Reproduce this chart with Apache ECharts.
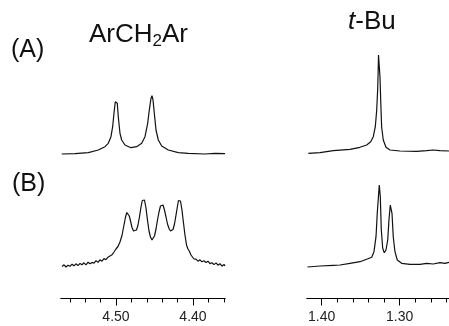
<!DOCTYPE html>
<html>
<head>
<meta charset="utf-8">
<script src="https://cdn.jsdelivr.net/npm/echarts@6/dist/echarts.min.js"></script>
<style>
  html, body { margin: 0; padding: 0; background: #fff; }
  #chart { width: 449px; height: 326px; }
</style>
</head>
<body>
<div id="chart"></div>
<script>
// chemical shift windows (ppm)
const leftRange = [4.3584, 4.5714];
const rightRange = [1.2367, 1.4188];
const leftMajor = [4.50, 4.40];
const leftMinor = [4.56, 4.54, 4.52, 4.48, 4.46, 4.44, 4.42, 4.38, 4.36];
const rightMajor = [1.40, 1.30];
const rightMinor = [1.38, 1.36, 1.34, 1.32, 1.28, 1.26, 1.24];

// traces: [ppm, intensity above baseline]
const aLeft = [
  [4.5705, -0.5], [4.5532, -0.2], [4.5359, 0.8], [4.5230, 3.5], [4.5143, 6.8],
  [4.5100, 10.2], [4.5065, 16.8], [4.5043, 26.8], [4.5026, 40.2], [4.5009, 51.8],
  [4.4996, 53.5], [4.4983, 50.2], [4.4970, 36.8], [4.4948, 20.2], [4.4926, 13.5],
  [4.4883, 8.5], [4.4805, 5.8], [4.4731, 6.8], [4.4666, 10.2], [4.4623, 16.8],
  [4.4588, 30.2], [4.4567, 43.5], [4.4545, 55.2], [4.4532, 57.8], [4.4519, 53.5],
  [4.4502, 40.2], [4.4480, 23.5], [4.4450, 13.5], [4.4406, 7.5], [4.4320, 3.5],
  [4.4191, 0.8], [4.4061, 0.2], [4.3844, -0.5], [4.3714, 0.2], [4.3584, -0.2]
];

const bLeft = [
  [4.5701, -0.5], [4.5675, 1.2], [4.5662, 0.2], [4.5649, -1], [4.5623, 0.8], [4.5597, -0.3],
  [4.5571, 1.8], [4.5558, 0.6], [4.5545, 0.2], [4.5519, 2.2], [4.5493, 0.4], [4.5467, 2.6],
  [4.5441, 1.3], [4.5428, 2.1], [4.5415, 3.2], [4.5389, 1.2], [4.5363, 3.8], [4.5337, 2.2],
  [4.5311, 3.6], [4.5298, 4.6], [4.5285, 2.8], [4.5259, 5.4], [4.5233, 3.6], [4.5208, 6.2],
  [4.5182, 4.8], [4.5156, 7.4], [4.5130, 6.3], [4.5104, 8.8], [4.5078, 10],
  [4.5052, 11.2], [4.5026, 14], [4.5000, 17], [4.4974, 19.5], [4.4948, 24],
  [4.4922, 30.5], [4.4896, 41], [4.4876, 49], [4.4859, 53.5], [4.4844, 53],
  [4.4827, 50], [4.4811, 45], [4.4792, 38.5], [4.4772, 35], [4.4753, 34.3],
  [4.4733, 36], [4.4714, 41], [4.4695, 49], [4.4675, 59], [4.4658, 65.5],
  [4.4645, 67.5], [4.4630, 66], [4.4610, 58], [4.4591, 46], [4.4571, 35],
  [4.4552, 29], [4.4532, 26], [4.4515, 26.5], [4.4500, 30], [4.4480, 37],
  [4.4461, 46], [4.4441, 54], [4.4422, 60], [4.4405, 62], [4.4389, 61],
  [4.4370, 56], [4.4350, 49], [4.4331, 42], [4.4311, 37.5], [4.4292, 35],
  [4.4275, 34.5], [4.4259, 36.5], [4.4240, 42], [4.4220, 51], [4.4201, 60],
  [4.4188, 65.5], [4.4178, 67.5], [4.4162, 65], [4.4143, 56], [4.4123, 43],
  [4.4104, 31], [4.4084, 21], [4.4065, 17], [4.4045, 14.5], [4.4026, 11],
  [4.4006, 9.5], [4.3987, 7], [4.3961, 6.8], [4.3948, 5.4], [4.3935, 4.8], [4.3909, 6.2],
  [4.3883, 4.2], [4.3870, 5.8], [4.3857, 5.2], [4.3831, 3.4], [4.3805, 4.8], [4.3779, 2.4],
  [4.3766, 3.9], [4.3753, 3.2], [4.3727, 1.4], [4.3701, 3.1], [4.3688, 1.8], [4.3675, 0.8],
  [4.3649, 2.3], [4.3623, -0.2], [4.3610, 1.1], [4.3597, 1.6], [4.3584, 0]
];

const aRight = [
  [1.4171, 0.2], [1.4021, 0.8], [1.3851, 2.8], [1.3637, 4.2], [1.3509, 6.2],
  [1.3423, 8.5], [1.3371, 11.8], [1.3338, 16.8], [1.3312, 26.8], [1.3294, 43.5],
  [1.3282, 63.5], [1.3276, 80], [1.3271, 98.5], [1.3262, 88], [1.3252, 76.8],
  [1.3243, 53.5], [1.3231, 26.8], [1.3210, 13.5], [1.3175, 6.2], [1.3124, 3.5],
  [1.2996, 2.5], [1.2782, 2.2], [1.2653, 2.8], [1.2569, 3.5], [1.2483, 2.8],
  [1.2367, 2.5]
];

const bRight = [
  [1.4182, -1], [1.4021, 0], [1.3851, 0.7], [1.3765, 1], [1.3637, 2.7],
  [1.3508, 4.3], [1.3423, 6.7], [1.3358, 8.7], [1.3329, 14.3], [1.3303, 29.3],
  [1.3287, 52.7], [1.3269, 72.7], [1.3261, 81], [1.3248, 69.3], [1.3235, 36],
  [1.3217, 17.7], [1.3197, 13.3], [1.3175, 16], [1.3153, 26], [1.3137, 46],
  [1.3120, 61], [1.3111, 62.7], [1.3098, 52.7], [1.3082, 29.3], [1.3060, 14.3],
  [1.3030, 6], [1.2974, 2.7], [1.2867, 1.7], [1.2739, 1.7], [1.2653, 2.7],
  [1.2569, 2], [1.2483, 3.3], [1.2419, 2.7], [1.2367, 3.7]
];

const FONT = '"Liberation Sans", Arial, sans-serif';

const chart = echarts.init(document.getElementById('chart'), null, { renderer: 'canvas' });

const hiddenX = (grid, range) => ({
  type: 'value', gridIndex: grid, min: range[0], max: range[1], inverse: true, show: false
});

const tickAxis = (grid, range, values, len, labels) => ({
  type: 'value',
  gridIndex: grid,
  position: 'bottom',
  min: range[0],
  max: range[1],
  inverse: true,
  splitLine: { show: false },
  axisLine: { show: true, onZero: false, lineStyle: { color: '#000', width: 1 } },
  axisTick: { show: true, customValues: values, length: len, lineStyle: { color: '#000', width: 1 } },
  axisLabel: labels
    ? { show: true, customValues: values, margin: 12, color: '#222', fontSize: 14, fontFamily: FONT,
        formatter: (v) => v.toFixed(2) }
    : { show: false }
});

const yAx = (grid, min, max) => ({ type: 'value', gridIndex: grid, min: min, max: max, show: false });

const line = (data, xi, yi) => ({
  type: 'line',
  data: data,
  xAxisIndex: xi,
  yAxisIndex: yi,
  showSymbol: false,
  clip: false,
  silent: true,
  lineStyle: { color: '#111', width: 1.2 }
});

const option = {
  animation: false,
  backgroundColor: '#fff',
  grid: [
    { left: 61, top: 50, width: 164, height: 110 },
    { left: 61, top: 180, width: 164, height: 118.5 },
    { left: 307, top: 50, width: 142, height: 110 },
    { left: 307, top: 180, width: 142, height: 118.5 }
  ],
  xAxis: [
    hiddenX(0, leftRange),
    tickAxis(1, leftRange, leftMajor, 7, true),
    tickAxis(1, leftRange, leftMinor, 4, false),
    hiddenX(2, rightRange),
    tickAxis(3, rightRange, rightMajor, 7, true),
    tickAxis(3, rightRange, rightMinor, 4, false)
  ],
  yAxis: [
    yAx(0, -6.5, 103.5),
    yAx(1, -32.5, 86),
    yAx(2, -6.5, 103.5),
    yAx(3, -32.5, 86)
  ],
  series: [
    line(aLeft, 0, 0),
    line(bLeft, 1, 1),
    line(aRight, 3, 2),
    line(bRight, 4, 3)
  ],
  graphic: [
    {
      type: 'text', left: 11, top: 38,
      style: { text: '(A)', fill: '#111', font: '25px ' + FONT }
    },
    {
      type: 'text', left: 12, top: 172,
      style: { text: '(B)', fill: '#111', font: '25px ' + FONT }
    },
    {
      type: 'text', x: 89, y: 35,
      style: {
        text: '{m|ArCH}{s|2}{m|Ar}',
        fill: '#111',
        textAlign: 'left', align: 'left',
        textVerticalAlign: 'middle', verticalAlign: 'middle',
        rich: {
          m: { fontSize: 26, fontFamily: FONT, lineHeight: 30, verticalAlign: 'middle', fill: '#111' },
          s: { fontSize: 17, fontFamily: FONT, lineHeight: 16, verticalAlign: 'bottom', fill: '#111' }
        }
      }
    },
    {
      type: 'text', x: 348, y: 22,
      style: {
        text: '{i|t}{m|-Bu}',
        fill: '#111',
        textAlign: 'left', align: 'left',
        textVerticalAlign: 'middle', verticalAlign: 'middle',
        rich: {
          i: { fontSize: 26, fontFamily: FONT, fontStyle: 'italic', lineHeight: 30, fill: '#111' },
          m: { fontSize: 26, fontFamily: FONT, lineHeight: 30, fill: '#111' }
        }
      }
    }
  ]
};

chart.setOption(option);
</script>
</body>
</html>
